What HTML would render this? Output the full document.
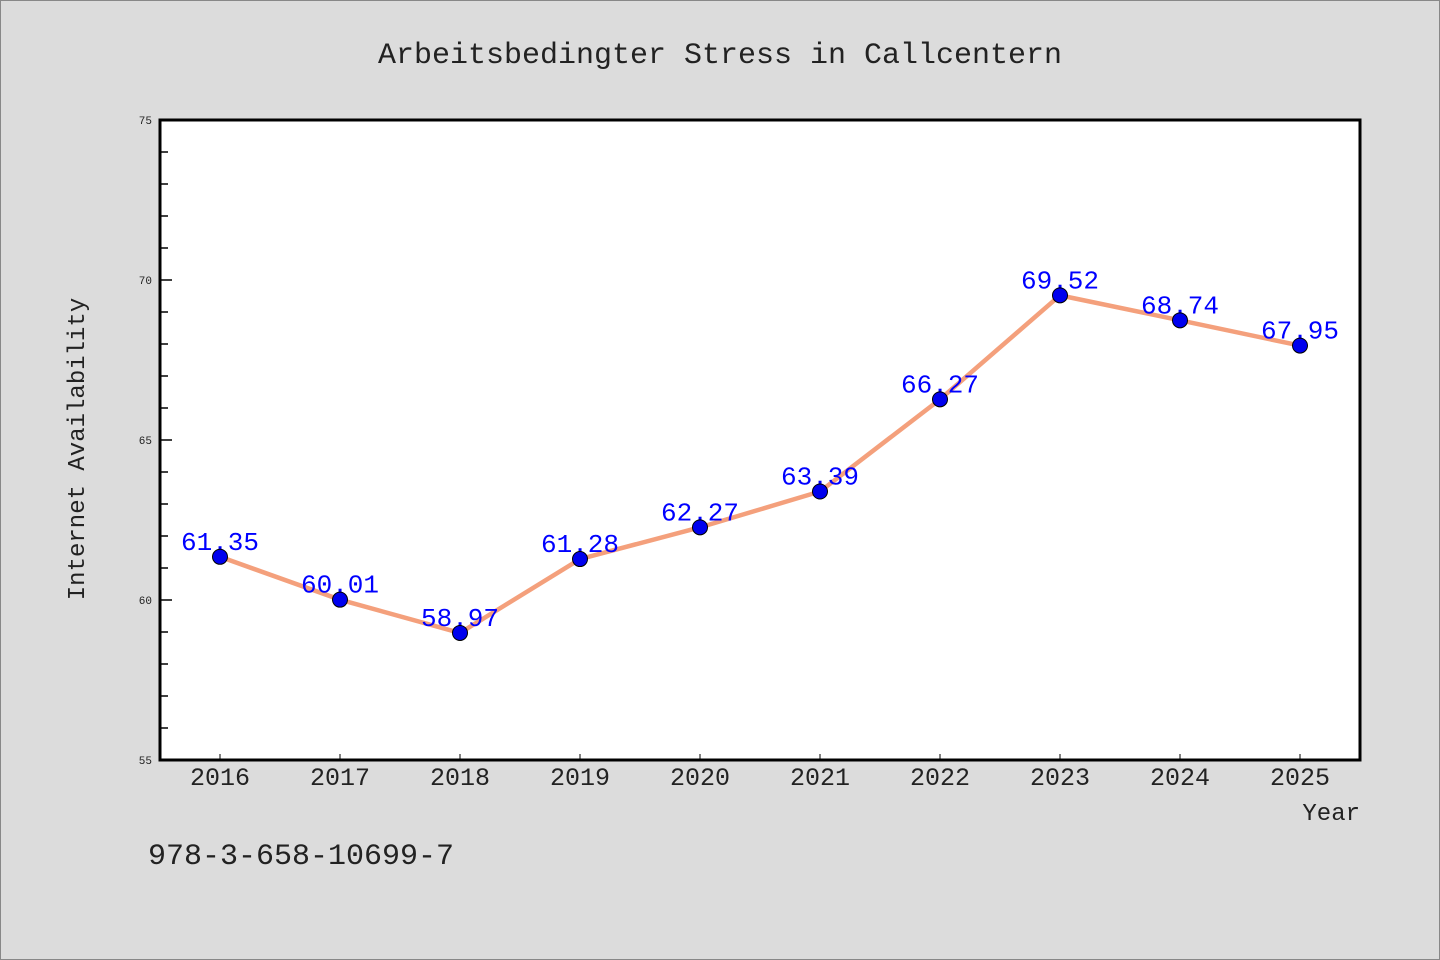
<!DOCTYPE html>
<html><head><meta charset="utf-8"><style>
body{margin:0;background:#dcdcdc;}
svg{display:block;font-family:"Liberation Mono",monospace;}
</style></head><body>
<svg width="1440" height="960">
<rect x="0.5" y="0.5" width="1439" height="959" fill="#dcdcdc" stroke="#888"/>
<text x="720" y="63" text-anchor="middle" font-size="30" fill="#222">Arbeitsbedingter Stress in Callcentern</text>
<rect x="160" y="120" width="1200" height="640" fill="#fff"/>
<g id="axes"></g>
<g id="marks"></g>
<rect x="160" y="120" width="1200" height="640" fill="none" stroke="#000" stroke-width="3"/>
<text transform="translate(84,449) rotate(-90)" text-anchor="middle" font-size="24" fill="#222">Internet Availability</text>
<text x="1360" y="820" text-anchor="end" font-size="24" fill="#222">Year</text>
<text x="148" y="864" font-size="30" fill="#222">978-3-658-10699-7</text>
</svg>
<script>
const years=["2016","2017","2018","2019","2020","2021","2022","2023","2024","2025"];
const values=[61.35,60.01,58.97,61.28,62.27,63.39,66.27,69.52,68.74,67.95];
const labels=["61.35","60.01","58.97","61.28","62.27","63.39","66.27","69.52","68.74","67.95"];
const yTicks=[55,60,65,70,75];
const yMin=55,yMax=75;
const NS="http://www.w3.org/2000/svg";
const xs=i=>220+i*120;
const ys=v=>760-(v-yMin)/(yMax-yMin)*640;
function mk(t,a,p){const e=document.createElementNS(NS,t);for(const k in a)e.setAttribute(k,a[k]);p.appendChild(e);return e;}
const ax=document.getElementById('axes'),mg=document.getElementById('marks');
for(let v=yMin;v<=yMax;v++){
 const major=yTicks.includes(v);
 const l=mk('line',{x1:160,x2:major?172:168,y1:ys(v),y2:ys(v),stroke:'#000','stroke-width':1.5},ax);
 
 
}
yTicks.forEach(v=>{
 const t=mk('text',{x:152,y:ys(v)+4,'text-anchor':'end','font-size':11,fill:'#222'},ax);t.textContent=v;
 
 
});
years.forEach((y,i)=>{
 const l=mk('line',{x1:xs(i),x2:xs(i),y1:760,y2:754,stroke:'#000','stroke-width':1},ax);
 
 
 const t=mk('text',{x:xs(i),y:785,'text-anchor':'middle','font-size':25,fill:'#222'},ax);t.textContent=y;
 
 
});
const line=mk('polyline',{points:values.map((v,i)=>xs(i)+','+ys(v)).join(' '),fill:'none',stroke:'#f4a07c','stroke-width':4.5},mg);


values.forEach((v,i)=>{
 const t=mk('text',{x:xs(i),y:ys(v)-7,'text-anchor':'middle','font-size':26,fill:'#0000ff'},mg);t.textContent=labels[i];
 
 
 const c=mk('circle',{cx:xs(i),cy:ys(v),r:7.5,fill:'#0000ee',stroke:'#000','stroke-width':1},mg);
 
 
});
</script>
</body></html>
